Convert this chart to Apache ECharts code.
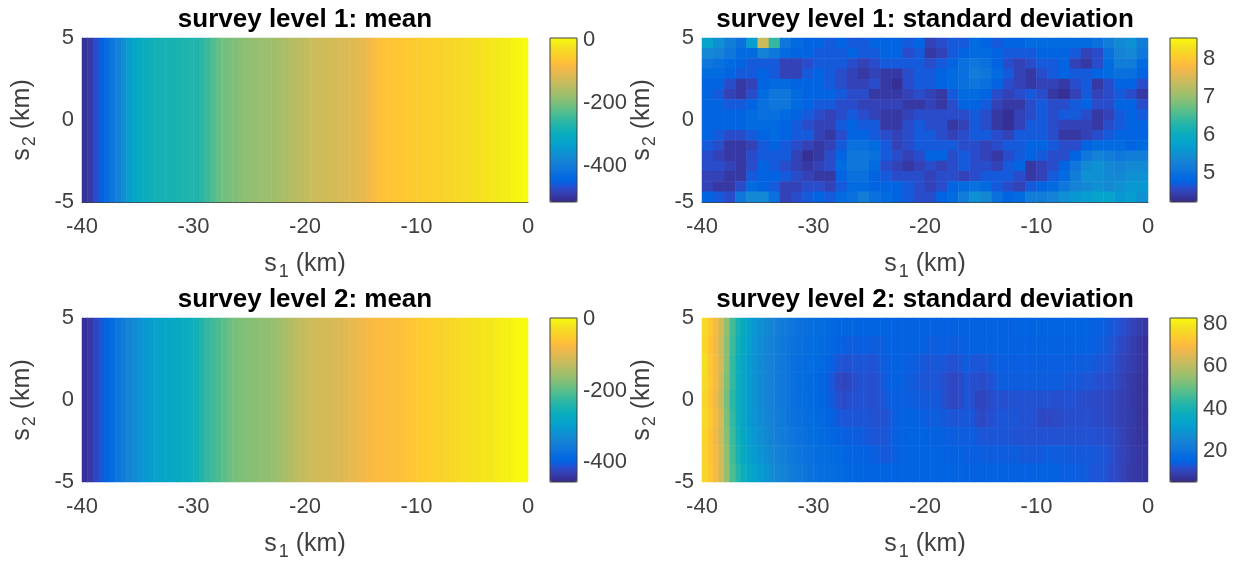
<!DOCTYPE html>
<html><head><meta charset="utf-8">
<style>html,body{margin:0;padding:0;background:#fff}#c{width:1241px;height:565px}</style>
<script src="https://cdn.jsdelivr.net/npm/echarts@6/dist/echarts.min.js"></script></head>
<body><div id="c"></div>
<script>
const parula=['#352a87','#363098','#36369f','#353dac','#3243ba','#2b4ac7','#2053d4','#0f5cdd','#0363e1','#0268e1','#046de0','#086fde','#0d75dc','#1079da','#127dd8','#1481d6','#1485d4','#1389d3','#108ed2','#0c93d2','#0998d1','#079ccf','#06a0cd','#06a4ca','#06a7c6','#07a9c2','#0aacbe','#0faeb9','#15b1b4','#1db3af','#25b5a9','#2eb7a4','#38b99e','#42bb98','#4dbd91','#59bd8c','#65be86','#71bf80','#7cbf7b','#87bf77','#91bf72','#9bbf6e','#a5be6b','#aebd67','#b7bd63','#c0bc60','#c8bc5d','#d1bb59','#d9ba56','#e1b952','#e9b94e','#f1b94a','#f8ba44','#fdbe3d','#ffc337','#fec832','#fcce2e','#fad32a','#f7d826','#f5de21','#f5e41d','#f5eb18','#f6f313','#f9fb0e'];

const xTicks=[-40,-30,-20,-10,0];
const yTicks=[-5,0,5];
const barTicksMean1=[-400,-200,0];
const barTicksStd1=[5,6,7,8];
const barTicksMean2=[-400,-200,0];
const barTicksStd2=[20,40,60,80];

const mean1Profile=[-505,-494,-473,-453,-432,-411,-390,-364,-338,-317,-307,-297,-291,-286,-284,-281,-281,-278,-276,-273,-271,-263,-250,-234,-219,-208,-203,-198,-193,-187,-182,-180,-177,-174,-172,-167,-161,-156,-151,-146,-138,-133,-130,-128,-125,-122,-120,-117,-115,-109,-104,-94,-83,-73,-70,-68,-65,-63,-60,-57,-55,-52,-50,-47,-44,-42,-39,-37,-34,-31,-26,-24,-21,-16,-13,-11,-8,-3,0,5];
const mean2Profile=[-446,-437,-423,-409,-395,-382,-368,-354,-340,-327,-318,-308,-299,-290,-285,-281,-276,-272,-267,-263,-253,-240,-226,-217,-208,-199,-189,-182,-178,-173,-171,-169,-166,-164,-160,-153,-146,-139,-132,-125,-121,-116,-114,-111,-109,-107,-102,-98,-93,-89,-84,-79,-75,-73,-70,-70,-68,-66,-61,-57,-52,-50,-47,-43,-41,-38,-34,-31,-29,-25,-22,-20,-18,-15,-11,-8,-6,-2,1,3];

const std1Rows=[
[5.8,5.5,5.2,5.0,5.7,7.4,6.4,5.1,4.9,4.8,4.8,4.7,4.8,4.7,4.7,4.8,4.8,4.8,4.7,4.8,4.5,4.6,4.7,4.7,4.9,4.8,4.7,4.8,4.8,4.9,4.9,4.9,4.9,4.9,4.9,5.0,5.2,5.4,5.5,5.2],
[5.4,5.3,5.1,4.9,4.9,5.3,5.1,4.9,4.8,4.8,4.7,4.7,4.7,4.8,4.7,4.7,4.8,4.8,4.6,4.7,4.4,4.5,4.7,4.8,4.9,4.9,4.8,4.7,4.7,4.7,4.8,4.8,4.8,4.7,4.5,4.6,5.0,5.3,5.4,5.1],
[5.1,5.0,4.9,4.8,4.7,4.7,4.7,4.5,4.5,4.6,4.7,4.7,4.7,4.6,4.5,4.6,4.7,4.7,4.7,4.7,4.6,4.7,4.8,5.0,5.1,5.0,4.8,4.6,4.5,4.6,4.7,4.7,4.8,4.5,4.4,4.6,4.9,5.2,5.2,4.9],
[4.9,4.9,4.8,4.7,4.7,4.8,4.7,4.5,4.5,4.7,4.8,4.7,4.6,4.5,4.4,4.5,4.4,4.4,4.6,4.7,4.7,4.8,4.9,5.0,5.2,5.1,4.9,4.7,4.5,4.4,4.6,4.7,4.8,4.7,4.7,4.8,4.9,5.0,5.0,4.8],
[4.8,4.8,4.6,4.4,4.5,4.8,4.9,4.9,4.8,4.8,4.8,4.7,4.6,4.5,4.5,4.6,4.4,4.3,4.6,4.7,4.7,4.8,4.9,5.0,5.1,5.0,4.8,4.6,4.5,4.4,4.5,4.5,4.4,4.6,4.7,4.4,4.6,4.8,4.8,4.6],
[4.8,4.7,4.5,4.4,4.6,4.9,5.1,5.1,4.9,4.8,4.8,4.8,4.7,4.6,4.6,4.4,4.4,4.4,4.5,4.6,4.5,4.4,4.7,4.9,4.9,4.8,4.6,4.5,4.6,4.7,4.6,4.4,4.3,4.5,4.7,4.5,4.6,4.7,4.6,4.4],
[4.8,4.8,4.7,4.7,4.8,5.0,5.1,5.1,4.9,4.8,4.7,4.7,4.6,4.6,4.5,4.5,4.5,4.5,4.4,4.4,4.5,4.4,4.6,4.8,4.8,4.7,4.5,4.4,4.4,4.6,4.7,4.6,4.6,4.7,4.8,4.6,4.6,4.8,4.8,4.6],
[4.8,4.8,4.8,4.8,4.9,5.0,5.0,4.9,4.8,4.7,4.6,4.5,4.6,4.7,4.6,4.5,4.4,4.4,4.5,4.6,4.6,4.6,4.6,4.6,4.7,4.6,4.4,4.3,4.5,4.6,4.7,4.6,4.7,4.7,4.6,4.4,4.5,4.7,4.8,4.7],
[4.8,4.8,4.8,4.8,4.9,4.9,4.9,4.8,4.7,4.6,4.5,4.5,4.7,4.8,4.7,4.7,4.4,4.4,4.6,4.7,4.6,4.6,4.4,4.5,4.7,4.6,4.4,4.3,4.5,4.7,4.7,4.6,4.5,4.5,4.5,4.4,4.6,4.7,4.8,4.8],
[4.8,4.7,4.6,4.6,4.7,4.8,4.9,4.8,4.7,4.7,4.5,4.4,4.6,4.8,4.8,4.7,4.6,4.5,4.6,4.7,4.7,4.6,4.5,4.6,4.7,4.7,4.6,4.5,4.7,4.7,4.7,4.6,4.4,4.4,4.5,4.6,4.7,4.8,4.8,4.8],
[4.7,4.6,4.4,4.4,4.5,4.7,4.8,4.7,4.6,4.5,4.4,4.5,4.7,5.0,5.0,4.9,4.7,4.5,4.6,4.7,4.7,4.7,4.7,4.6,4.6,4.5,4.6,4.7,4.7,4.8,4.8,4.7,4.6,4.6,4.8,4.9,4.9,4.9,4.8,4.9],
[4.6,4.5,4.4,4.4,4.6,4.7,4.7,4.7,4.5,4.3,4.4,4.6,4.8,5.1,5.1,5.0,4.7,4.6,4.5,4.6,4.8,4.8,4.6,4.7,4.6,4.5,4.4,4.6,4.7,4.8,4.7,4.6,4.6,4.8,5.1,5.3,5.2,5.1,5.2,5.2],
[4.6,4.6,4.5,4.4,4.6,4.8,4.7,4.6,4.5,4.4,4.5,4.6,4.9,5.1,5.1,4.9,4.6,4.5,4.4,4.5,4.6,4.5,4.6,4.7,4.6,4.6,4.5,4.7,4.8,4.4,4.5,4.6,4.8,5.1,5.4,5.5,5.4,5.3,5.4,5.4],
[4.5,4.5,4.4,4.4,4.7,4.8,4.8,4.7,4.6,4.5,4.4,4.4,4.8,5.0,5.0,4.8,4.7,4.6,4.6,4.6,4.5,4.6,4.6,4.5,4.6,4.7,4.7,4.7,4.6,4.4,4.5,4.7,4.9,5.2,5.5,5.5,5.4,5.4,5.5,5.5],
[4.5,4.4,4.4,4.6,4.9,4.8,4.7,4.5,4.5,4.6,4.6,4.5,4.7,4.9,4.9,4.8,4.8,4.8,4.7,4.6,4.5,4.6,4.8,4.9,5.0,4.9,4.7,4.6,4.5,4.7,4.8,4.9,5.1,5.3,5.4,5.5,5.4,5.5,5.6,5.6],
[4.8,4.7,4.6,5.1,5.4,5.4,5.0,4.5,4.6,4.7,4.8,4.7,4.9,5.0,5.2,5.0,4.9,4.8,4.7,4.6,4.6,4.8,4.9,5.2,5.5,5.4,5.0,4.8,4.9,5.2,5.2,5.3,5.5,5.6,5.7,5.8,5.8,5.6,5.7,5.5]
];

const std2Rows=[
[77,73,69,63,54,46,40,36,33,30,28,26,25,23,22,21,20,19.5,19,18.5,18,17.5,17,16.5,16,16,16,16,15.5,15.5,15.5,15.5,15.5,15.5,15.5,15,15,15,15,15,15,15,15,15,15,15,15,15,15,15,15,15,15,15,15,15,15.5,15.5,15.5,15.5,15.5,15.5,15.5,15.5,15.5,15.5,15.5,15.5,15.5,15,15,14.5,14,13.5,13,12,11,10,9,8],
[76,72,68,62,53,45,39,35,32,29,27,25,24,22.5,21,20,19.5,19,18.5,18,17.5,17,16.5,16,15,14.5,14,14,14.5,14.5,14,14,14.5,15,15,15,15,15,15,15,14.5,14,14.5,14.5,14,14,14.5,14.5,15,15,15,15,15,15,15,15,15,15,15,15,15,15,15,15,15,15,15,15,15,15,14.5,14,13.5,13,12,11,10,9,8,7],
[78,73,69,63,53,44,38,34,31,28.5,26.5,25,23.5,22,21,20,19,18.5,18,17.5,17,16.5,16,14.5,13,12.5,12.5,13,13,13,12.5,13,14,14.5,15,15,14.5,14.5,14,13.5,13,13,13.5,13,12.5,12.5,13,14,13,13,13,13.5,14,14.5,14.5,14.5,14.5,14.5,14.5,14.5,14.5,14.5,14.5,14.5,14.5,14.5,14,14,14,14,13.5,13,13,12.5,11.5,10.5,9.5,9,8,7],
[77,73,69,62,52,44,38,34,31,28.5,26.5,25,23.5,22,21,20,19,18,17.5,17,16.5,16,15,13,11,10.5,11,12,12.5,12.5,12,12.5,13.5,14.5,15,15,14,14,13.5,13,13,13,13,12,11,11,11.5,13,12,12,11.5,12.5,13,14,14,14,14,14,14,14,14,14,14,14,14,13.5,13.5,13.5,13,13,12.5,12,12,11.5,11,10,9,8.5,7.5,6.5],
[76,72,68,61,51,43,38,34,31,28.5,26.5,25,23.5,22,21,20,19,18.5,18,17,16.5,16,15,13.5,12,11.5,12,12.5,12.5,12.5,12,12.5,13,14,14.5,14.5,14.5,14,14,13.5,13.5,13.5,13.5,12,11,11,11.5,13,12,10.5,10.5,11.5,12,12.5,12,12.5,12.5,12.5,12.5,12.5,12.5,12.5,12.5,12,12,12.5,12.5,12,12,11.5,11.5,11,11,10.5,10,9.5,9,8,7.5,6.5],
[77,73,69,63,52,44,38,34,31,29,27,25.5,24,22.5,21.5,20.5,19.5,19,18.5,17.5,17,16.5,16,15,13.5,13,13,13,13,13,12.5,12.5,12.5,13,14,15,15,15,15,14.5,14,14,14,13.5,13,13,13,13.5,13,11.5,11,12,12.5,13,13,13,13,12.5,12.5,12.5,11.5,11,11,11.5,11.5,12,12,12,12,12,11.5,11.5,11,10.5,10,9.5,9,8.5,7.5,6.5],
[76,72,68,62,53,45,39,35,32,30,28,26,24.5,23,22,21,20,19.5,19,18,17.5,17,16.5,16,15,14.5,14.5,14,14,13.5,13,13,13,13.5,14.5,15,15,15.5,15.5,15.5,15,15,15,14.5,14.5,14,14,14,14,13.5,13,13,13,13,13,13,12.5,12.5,12.5,12.5,12.5,12.5,12.5,12.5,12.5,12.5,12.5,12.5,12.5,12.5,12.5,12,12,11.5,11,10,9,8.5,7.5,7],
[75,72,69,63,54,46,40,36,33,31,29,27,25.5,24,23,22,21,20,19.5,19,18.5,18,17.5,17,16.5,16,15.5,15.5,15,15,14.5,14,13.5,13.5,14.5,15,15.5,15.5,15.5,15.5,15.5,15.5,15.5,15,15,15,15,14.5,14.5,14.5,14,14,14,14,14,14,14,13.5,13.5,13.5,13.5,14,14,14,14,14,13.5,13.5,13.5,13.5,13.5,13,13,12,11,10,9.5,8.5,8,7.5],
[76,73,69,63,55,47,42,38,35,33,31,29,27,25.5,24,23,22,21,20.5,19.5,19,18.5,18,17.5,17,16.5,16,16,16,15.5,15.5,15.5,15.5,15.5,15.5,15.5,15.5,15.5,15.5,15.5,15.5,15.5,15.5,15.5,15.5,15.5,15.5,15,15,15,15,15,15,15,15,15,15,15,15,15,15,15,15,15,14.5,14.5,14.5,14,14,13.5,13,13,12.5,11.5,11,10,9,8.5,8,7.5]
];

const panels=[
 {title:'survey level 1: mean',rows:[mean1Profile],range:[-515,5],ticks:barTicksMean1,l:82,t:38,bl:550},
 {title:'survey level 1: standard deviation',rows:std1Rows,range:[4.24,8.55],ticks:barTicksStd1,l:702,t:38,bl:1170},
 {title:'survey level 2: mean',rows:[mean2Profile],range:[-455,3],ticks:barTicksMean2,l:82,t:318,bl:550},
 {title:'survey level 2: standard deviation',rows:std2Rows,range:[5.3,82.8],ticks:barTicksStd2,l:702,t:318,bl:1170}
];
const W=446,H=164,BW=27,FONT='"Liberation Sans",Arial,sans-serif',TC='#404040';
const opt={animation:false,textStyle:{fontFamily:FONT},title:[],grid:[],xAxis:[],yAxis:[],visualMap:[],series:[]};
const nameRich={sub:{fontSize:18,color:TC,fontFamily:FONT,padding:[15,0,0,2],verticalAlign:'bottom'}};
panels.forEach((p,i)=>{
 opt.title.push({text:p.title,left:p.l+W/2-5,top:p.t-36,textAlign:'center',textStyle:{fontFamily:FONT,fontWeight:'bold',fontSize:26,color:'#000'}});
 opt.grid.push({left:p.l,top:p.t,width:W,height:H,show:false});
 const g=i*2;
 const cols=p.rows[0].map((_,k)=>k), rows=p.rows.map((_,k)=>k);
 opt.xAxis.push({type:'category',gridIndex:g,data:cols,show:false});
 opt.yAxis.push({type:'category',gridIndex:g,data:rows,show:false,inverse:true});
 opt.xAxis.push({type:'value',gridIndex:g,position:'bottom',min:xTicks[0],max:xTicks[xTicks.length-1],interval:10,
   splitLine:{show:false},axisTick:{show:false},axisLine:{show:p.t===38,onZero:false,lineStyle:{color:'#404040'}},
   axisLabel:{color:TC,fontSize:22,margin:14,fontFamily:FONT},
   name:'s{sub|1} (km)',nameLocation:'middle',nameGap:46,nameTextStyle:{color:TC,fontSize:25,fontFamily:FONT,rich:nameRich}});
 opt.yAxis.push({type:'value',gridIndex:g,position:'left',min:yTicks[0],max:yTicks[yTicks.length-1],interval:5,
   splitLine:{show:false},axisTick:{show:false},axisLine:{show:false,onZero:false},
   axisLabel:{color:TC,fontSize:22,margin:8,fontFamily:FONT,verticalAlign:'middle',padding:[6,0,0,0]},
   name:'s{sub|2} (km)',nameLocation:'middle',nameGap:43,nameTextStyle:{color:TC,fontSize:25,fontFamily:FONT,rich:nameRich}});
 opt.series.push({type:'heatmap',xAxisIndex:i*3,yAxisIndex:i*3,silent:true,progressive:0,
   data:p.rows.flatMap((r,ry)=>r.map((v,cx)=>[cx,ry,v])),itemStyle:{borderWidth:0},emphasis:{disabled:true}});
 opt.visualMap.push({type:'continuous',seriesIndex:i,min:p.range[0],max:p.range[1],left:p.bl,top:p.t,itemWidth:BW,itemHeight:H,padding:0,
   text:['',''],calculable:false,hoverLink:false,inRange:{color:parula},z:2});
 opt.grid.push({left:p.bl,top:p.t,width:BW,height:H,show:true,backgroundColor:'transparent',borderColor:'#404040',borderWidth:1,z:6});
 opt.xAxis.push({type:'category',gridIndex:g+1,data:[''],show:false});
 opt.yAxis.push({type:'value',gridIndex:g+1,position:'right',min:p.range[0],max:p.range[1],z:7,
   splitLine:{show:false},axisLine:{show:false},
   axisTick:{inside:true,length:3,customValues:p.ticks,lineStyle:{color:'#404040'}},
   axisLabel:{customValues:p.ticks,color:TC,fontSize:22,margin:6,fontFamily:FONT,verticalAlign:'middle',padding:[4,0,0,0]}});
});
const chart=echarts.init(document.getElementById('c'),null,{renderer:'canvas'});
chart.setOption(opt);
</script></body></html>
